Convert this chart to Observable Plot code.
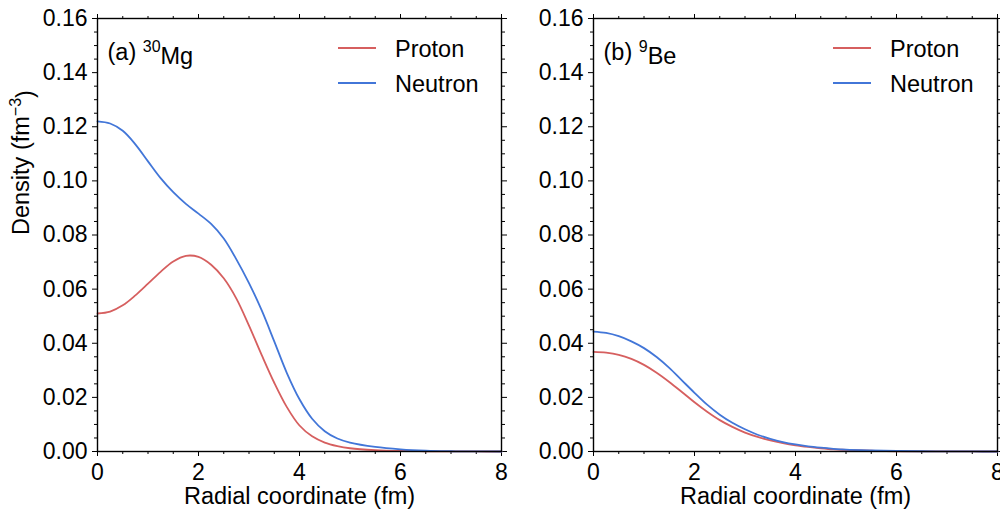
<!DOCTYPE html>
<html><head><meta charset="utf-8">
<script src="https://cdn.jsdelivr.net/npm/d3@7"></script>
<script src="https://cdn.jsdelivr.net/npm/@observablehq/plot@0.6"></script>
<style>
html,body{margin:0;padding:0;background:#fff;overflow:hidden;}
#wrap{position:relative;width:1000px;height:513px;font-family:"Liberation Sans",Arial,Helvetica,sans-serif;color:#000;}
.panel{position:absolute;top:0;}
.panel svg{overflow:visible;}
.lg{position:absolute;font-size:23.5px;line-height:24px;white-space:nowrap;}
.sw{position:absolute;height:2px;}
</style></head><body><div id="wrap"></div>
<script>
// radial coordinate (fm)
const radius = [0,0.25,0.5,0.75,1,1.25,1.5,1.75,2,2.25,2.5,2.75,3,3.25,3.5,3.75,4,4.25,4.5,4.75,5,5.5,6,6.5,7,7.5,8];
// (a) 30Mg densities (fm^-3)
const mgProton  = [0.0510,0.0517,0.0540,0.0577,0.0620,0.0664,0.0702,0.0723,0.0719,0.0690,0.0640,0.0565,0.0465,0.0357,0.0254,0.0164,0.0096,0.0056,0.0033,0.0020,0.0012,0.0005,0.0002,0.0001,0.00003,0.00001,0];
const mgNeutron = [0.1220,0.1212,0.1185,0.1135,0.1072,0.1010,0.0958,0.0915,0.0879,0.0841,0.0787,0.0710,0.0622,0.0522,0.0407,0.0290,0.0193,0.0121,0.0075,0.0048,0.0033,0.0017,0.0008,0.0003,0.0001,0.00003,0];
// (b) 9Be densities (fm^-3)
const beProton  = [0.0368,0.0365,0.0357,0.0342,0.0320,0.0291,0.0257,0.0220,0.0182,0.0147,0.0116,0.0091,0.0070,0.0054,0.0041,0.0031,0.0023,0.0017,0.0012,0.0008,0.0006,0.0003,0.0001,0.00005,0.00002,0.00001,0];
const beNeutron = [0.0443,0.0438,0.0426,0.0407,0.0382,0.0349,0.0309,0.0263,0.0217,0.0173,0.0136,0.0106,0.0082,0.0062,0.0047,0.0035,0.0026,0.0019,0.0014,0.0010,0.0007,0.0004,0.0002,0.0001,0.00004,0.00001,0];

const xMajor = [0,2,4,6,8];
const xMinor = d3.range(0, 8.001, 0.5).filter(v => v % 2 !== 0);
const yMajor = [0,0.02,0.04,0.06,0.08,0.10,0.12,0.14,0.16];
const yMinor = d3.range(0, 0.1601, 0.005).filter(v => Math.abs(v/0.02 - Math.round(v/0.02)) > 1e-6);
const seriesNames = ["Proton","Neutron"];
const colors = {Proton:"#d65f5f", Neutron:"#4276d8"};
const xTitle = "Radial coordinate (fm)";
const yTitle = "Density (fm^{−3})";

const FONT = '"Liberation Sans",Arial,Helvetica,sans-serif';

function rows(vals){ return radius.map((r,i)=>({r, v: vals[i]})); }

function panel(label, proton, neutron, showY, left, width, mr){
  const marks = [
    Plot.axisX({anchor:"bottom", ticks:xMajor, tickSize:5, tickPadding:7, tickFormat:d=>String(d), label:null}),
    Plot.axisX({anchor:"bottom", ticks:xMinor, tickSize:3, tickFormat:()=>"", label:null}),
    Plot.axisX({anchor:"top", ticks:xMajor, tickSize:5, tickFormat:()=>"", label:null}),
    Plot.axisX({anchor:"top", ticks:xMinor, tickSize:3, tickFormat:()=>"", label:null}),
    Plot.axisY({anchor:"left", ticks:yMajor, tickSize:5, tickPadding:5, tickFormat:d3.format(".2f"), label:null}),
    Plot.axisY({anchor:"left", ticks:yMinor, tickSize:3, tickFormat:()=>"", label:null}),
    Plot.axisY({anchor:"right", ticks:yMajor, tickSize:5, tickFormat:()=>"", label:null}),
    Plot.axisY({anchor:"right", ticks:yMinor, tickSize:3, tickFormat:()=>"", label:null}),
    Plot.lineY(rows(proton), {x:"r", y:"v", stroke:colors.Proton, strokeWidth:1.8, curve:"catmull-rom"}),
    Plot.lineY(rows(neutron), {x:"r", y:"v", stroke:colors.Neutron, strokeWidth:1.8, curve:"catmull-rom"}),
    Plot.frame({stroke:"#000", strokeWidth:1.4}),
    Plot.text([xTitle], {frameAnchor:"bottom", dy:52, fontSize:23.5}),
    Plot.text([label], {frameAnchor:"top-left", dx:10, dy:25, textAnchor:"start", fontSize:23.5})
  ];
  if (showY) marks.push(Plot.text([yTitle], {frameAnchor:"left", dx:-76, rotate:-90, fontSize:23.5}));
  const chart = Plot.plot({
    width, height:513,
    marginLeft:97, marginRight:mr, marginTop:18, marginBottom:62,
    x:{domain:[0,8]},
    y:{domain:[0,0.16]},
    style:{fontFamily:FONT, fontSize:"23px", color:"#000", background:"transparent", overflow:"visible"},
    marks
  });
  // superscripts written as ^{...}
  d3.select(chart).selectAll("text").each(function(){
    const t = this.textContent;
    if (t.includes("^{")) {
      const parts = t.split(/(\^\{[^}]*\})/).filter(s=>s.length);
      const el = d3.select(this); el.text("");
      let raised = false;
      parts.forEach(p=>{
        if (p.startsWith("^{")) {
          el.append("tspan").attr("dy", raised ? null : "-0.5em").attr("font-size","16px").text(p.slice(2,-1));
          raised = true;
        } else {
          el.append("tspan").attr("dy", raised ? "0.5em" : null).text(p);
          raised = false;
        }
      });
    }
  });
  const div = document.createElement("div");
  div.className = "panel"; div.style.left = left + "px";
  div.appendChild(chart);
  document.getElementById("wrap").appendChild(div);
}

panel("(a) ^{30}Mg", mgProton, mgNeutron, true, 0, 510, 9);
panel("(b) ^{9}Be", beProton, beNeutron, false, 496, 504, 3);

// legends
function legend(x0){
  const wrap = document.getElementById("wrap");
  seriesNames.forEach((name,i)=>{
    const sw = document.createElement("div");
    sw.className = "sw";
    sw.style.left = x0 + "px"; sw.style.top = (47 + i*35) + "px"; sw.style.width = "38px";
    sw.style.background = colors[name];
    wrap.appendChild(sw);
    const tx = document.createElement("div");
    tx.className = "lg";
    tx.style.left = (x0 + 57) + "px"; tx.style.top = (37 + i*35) + "px";
    tx.textContent = name;
    wrap.appendChild(tx);
  });
}
legend(338);
legend(833);
</script>
</body></html>
